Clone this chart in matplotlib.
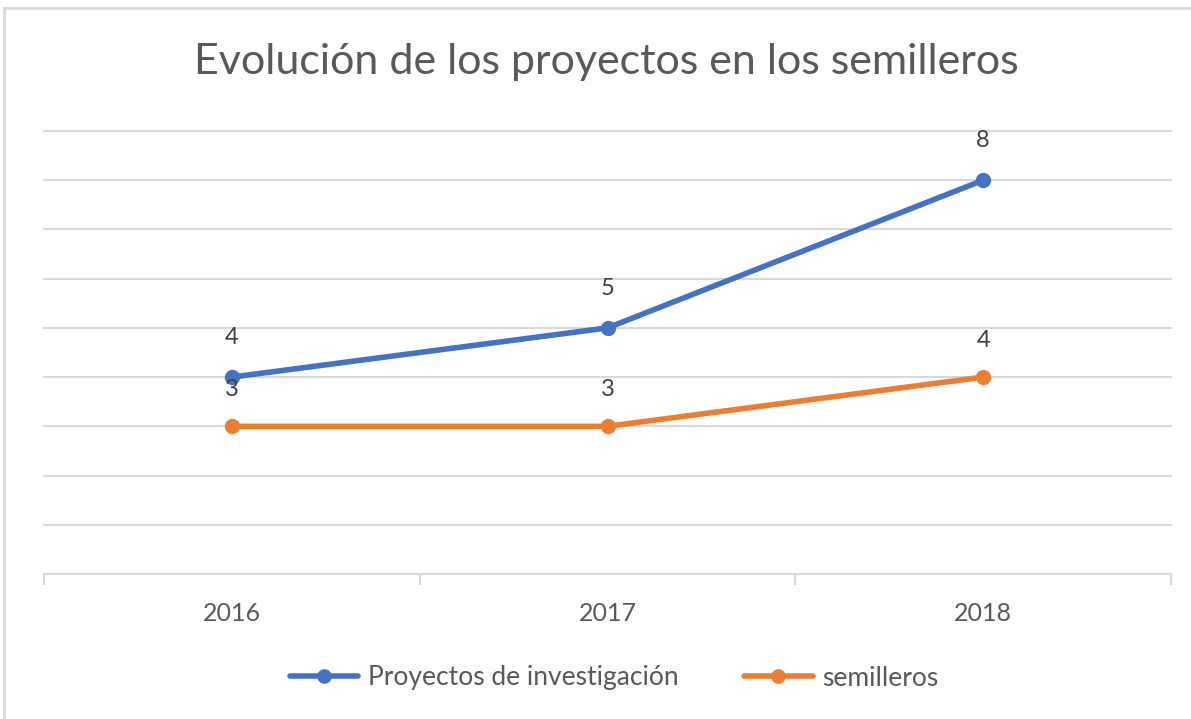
import matplotlib
matplotlib.use('Agg')
import matplotlib.pyplot as plt
from matplotlib.lines import Line2D

years = ['2016', '2017', '2018']
proyectos = [4, 5, 8]
semilleros = [3, 3, 4]
series_names = ['Proyectos de investigación', 'semilleros']

W, H = 1191, 719
plt.rcParams['font.family'] = ['Lato', 'DejaVu Sans']
gray = '#595959'

fig = plt.figure(figsize=(W / 100, H / 100), dpi=100)
ax = fig.add_axes([44 / W, 1 - 574 / H, (1171 - 44) / W, (574 - 131) / H])

# chart frame (cropped at right / bottom)
fig.add_artist(Line2D([4 / W, 4 / W], [0, 1 - 8 / H], color='#d9d9d9', lw=2))
fig.add_artist(Line2D([4 / W, 1], [1 - 8 / H, 1 - 8 / H], color='#d9d9d9', lw=2))

x = list(range(len(years)))
ax.plot(x, proyectos, color='#4472C4', lw=4, marker='o', ms=10,
        solid_capstyle='round', label=series_names[0], zorder=3)
ax.plot(x, semilleros, color='#ED7D31', lw=4, marker='o', ms=10,
        solid_capstyle='round', label=series_names[1], zorder=3)

for xi, v in zip(x, proyectos):
    ax.annotate(str(v), (xi, v), xytext=(0, 29), textcoords='offset pixels',
                ha='center', va='bottom', fontsize=17, color='#404040')
for xi, v in zip(x, semilleros):
    ax.annotate(str(v), (xi, v), xytext=(0, 26), textcoords='offset pixels',
                ha='center', va='bottom', fontsize=17, color='#404040')

ax.set_xlim(-0.5, 2.5)
ax.set_ylim(0, 9)
ax.set_yticks(range(0, 10))
ax.yaxis.grid(True, color='#d9d9d9', lw=1.5)
ax.tick_params(axis='y', left=False, labelleft=False)
ax.set_xticks(x)
ax.set_xticklabels(years, fontsize=18, color=gray)
ax.tick_params(axis='x', length=0, pad=20)
ax.set_xticks([-0.5, 0.5, 1.5, 2.5], minor=True)
ax.tick_params(axis='x', which='minor', length=8, color='#d9d9d9', width=1.5)
for s in ['top', 'right', 'left']:
    ax.spines[s].set_visible(False)
ax.spines['bottom'].set_color('#d9d9d9')
ax.spines['bottom'].set_linewidth(1.5)
ax.set_axisbelow(True)
for gl in ax.get_ygridlines():
    gl.set_clip_on(False)

fig.text(606 / W, 1 - 62 / H, 'Evolución de los proyectos en los semilleros',
         ha='center', va='center', fontsize=31, color=gray)

leg = fig.legend(loc='center', bbox_to_anchor=(614 / W, 1 - 678 / H), ncol=2,
                 frameon=False, fontsize=19, handlelength=2.6, columnspacing=2.5,
                 handletextpad=0.35, labelcolor=gray, markerscale=0.95)

fig.savefig('out.png', dpi=100)
